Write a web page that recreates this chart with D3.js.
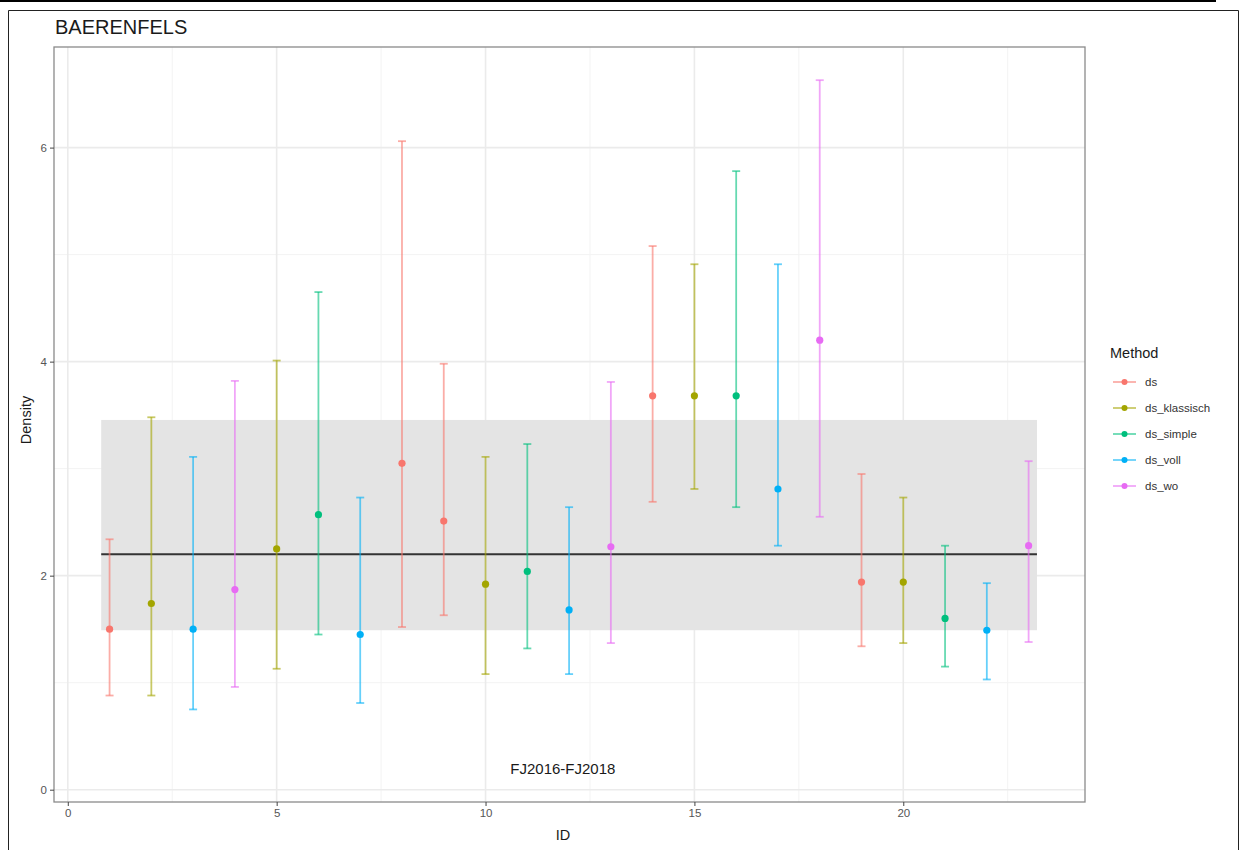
<!DOCTYPE html>
<html>
<head>
<meta charset="utf-8">
<script src="https://cdn.jsdelivr.net/npm/d3@7"></script>
<style>
  html, body { margin: 0; padding: 0; background: #ffffff; }
  svg { display: block; font-family: "Liberation Sans", Arial, Helvetica, sans-serif; }
</style>
</head>
<body>
<svg id="chart" width="1243" height="850"></svg>
<script>
// Plot IDs and the method used for each estimate
const ids = [1, 2, 3, 4, 5, 6, 7, 8, 9, 10, 11, 12, 13, 14, 15, 16, 17, 18, 19, 20, 21, 22, 23];
const methods = ["ds", "ds_klassisch", "ds_voll", "ds_wo", "ds_klassisch", "ds_simple", "ds_voll",
  "ds", "ds", "ds_klassisch", "ds_simple", "ds_voll", "ds_wo", "ds", "ds_klassisch", "ds_simple",
  "ds_voll", "ds_wo", "ds", "ds_klassisch", "ds_simple", "ds_voll", "ds_wo"];

// Density estimate with lower / upper confidence limits
const density = [1.50, 1.74, 1.50, 1.87, 2.25, 2.57, 1.45, 3.05, 2.51, 1.92, 2.04, 1.68, 2.27,
  3.68, 3.68, 3.68, 2.81, 4.20, 1.94, 1.94, 1.60, 1.49, 2.28];
const lower = [0.88, 0.88, 0.75, 0.96, 1.13, 1.45, 0.81, 1.52, 1.63, 1.08, 1.32, 1.08, 1.37,
  2.69, 2.81, 2.64, 2.28, 2.55, 1.34, 1.37, 1.15, 1.03, 1.38];
const upper = [2.34, 3.48, 3.11, 3.82, 4.01, 4.65, 2.73, 6.06, 3.98, 3.11, 3.23, 2.64, 3.81,
  5.08, 4.91, 5.78, 4.91, 6.63, 2.95, 2.73, 2.28, 1.93, 3.07];

// Reference level and its range across all IDs
const meanDensity = [2.20];
const bandRange = [1.49, 3.455];
const bandSpan = [0.8, 23.2];

// Legend order and colours
const methodLevels = ["ds", "ds_klassisch", "ds_simple", "ds_voll", "ds_wo"];
const methodColors = ["#F8766D", "#A3A500", "#00BF7D", "#00B0F6", "#E76BF3"];

// Axis ticks
const xTicks = [0, 5, 10, 15, 20];
const xMinor = [2.5, 7.5, 12.5, 17.5, 22.5];
const yTicks = [0, 2, 4, 6];
const yMinor = [1, 3, 5];

const chartTitle = "BAERENFELS";
const periodLabel = "FJ2016-FJ2018";

const rows = ids.map((id, i) => ({ id, method: methods[i], y: density[i], lo: lower[i], hi: upper[i] }));

const svg = d3.select("#chart");
const panel = { left: 54, right: 1085, top: 47, bottom: 802 };

const x = d3.scaleLinear().domain([-0.33, 24.35]).range([panel.left, panel.right]);
const y = d3.scaleLinear().domain([-0.115, 6.94]).range([panel.bottom, panel.top]);
const color = d3.scaleOrdinal().domain(methodLevels).range(methodColors);

// Page frame
svg.append("line").attr("x1", 0).attr("x2", 1216).attr("y1", 1).attr("y2", 1)
  .attr("stroke", "#000").attr("stroke-width", 2);
svg.append("path").attr("d", "M8.5,850 V10.5 H1238.5 V850")
  .attr("fill", "none").attr("stroke", "#222").attr("stroke-width", 1);

// Title
svg.append("text").attr("x", 55).attr("y", 34).attr("font-size", 20)
  .attr("fill", "#1a1a1a").text(chartTitle);

const g = svg.append("g");

// Panel background and grid
g.append("rect").attr("x", panel.left).attr("y", panel.top)
  .attr("width", panel.right - panel.left).attr("height", panel.bottom - panel.top)
  .attr("fill", "#fff");

g.selectAll("line.xminor").data(xMinor).join("line")
  .attr("x1", d => x(d)).attr("x2", d => x(d)).attr("y1", panel.top).attr("y2", panel.bottom)
  .attr("stroke", "#f3f3f3").attr("stroke-width", 1);
g.selectAll("line.yminor").data(yMinor).join("line")
  .attr("y1", d => y(d)).attr("y2", d => y(d)).attr("x1", panel.left).attr("x2", panel.right)
  .attr("stroke", "#f3f3f3").attr("stroke-width", 1);
g.selectAll("line.xmajor").data(xTicks).join("line")
  .attr("x1", d => x(d)).attr("x2", d => x(d)).attr("y1", panel.top).attr("y2", panel.bottom)
  .attr("stroke", "#ebebeb").attr("stroke-width", 1.6);
g.selectAll("line.ymajor").data(yTicks).join("line")
  .attr("y1", d => y(d)).attr("y2", d => y(d)).attr("x1", panel.left).attr("x2", panel.right)
  .attr("stroke", "#ebebeb").attr("stroke-width", 1.6);

// Reference band and mean line
g.append("rect")
  .attr("x", x(bandSpan[0])).attr("width", x(bandSpan[1]) - x(bandSpan[0]))
  .attr("y", y(bandRange[1])).attr("height", y(bandRange[0]) - y(bandRange[1]))
  .attr("fill", "#e4e4e4");
g.selectAll("line.mean").data(meanDensity).join("line")
  .attr("x1", x(bandSpan[0])).attr("x2", x(bandSpan[1]))
  .attr("y1", d => y(d)).attr("y2", d => y(d))
  .attr("stroke", "#333").attr("stroke-width", 2.2);

// Error bars
const capHalf = 4;
const bars = g.selectAll("g.bar").data(rows).join("g")
  .attr("stroke", d => color(d.method)).attr("stroke-opacity", 0.6).attr("stroke-width", 1.8);
bars.append("line").attr("x1", d => x(d.id)).attr("x2", d => x(d.id))
  .attr("y1", d => y(d.lo)).attr("y2", d => y(d.hi));
bars.append("line").attr("x1", d => x(d.id) - capHalf).attr("x2", d => x(d.id) + capHalf)
  .attr("y1", d => y(d.hi)).attr("y2", d => y(d.hi));
bars.append("line").attr("x1", d => x(d.id) - capHalf).attr("x2", d => x(d.id) + capHalf)
  .attr("y1", d => y(d.lo)).attr("y2", d => y(d.lo));

// Points
g.selectAll("circle.pt").data(rows).join("circle")
  .attr("cx", d => x(d.id)).attr("cy", d => y(d.y)).attr("r", 3.6)
  .attr("fill", d => color(d.method));

// Period annotation
g.append("text").attr("x", x(11.85)).attr("y", y(0.2)).attr("dy", "0.35em")
  .attr("text-anchor", "middle").attr("font-size", 15).attr("fill", "#1a1a1a")
  .text(periodLabel);

// Panel border
g.append("rect").attr("x", panel.left).attr("y", panel.top)
  .attr("width", panel.right - panel.left).attr("height", panel.bottom - panel.top)
  .attr("fill", "none").attr("stroke", "#8a8a8a").attr("stroke-width", 1.3);

// Axes
const xAxis = svg.append("g").attr("transform", `translate(0,${panel.bottom})`)
  .call(d3.axisBottom(x).tickValues(xTicks).tickFormat(d3.format("d")).tickSize(4).tickPadding(3));
const yAxis = svg.append("g").attr("transform", `translate(${panel.left},0)`)
  .call(d3.axisLeft(y).tickValues(yTicks).tickFormat(d3.format("d")).tickSize(4).tickPadding(3));
[xAxis, yAxis].forEach(a => {
  a.select(".domain").remove();
  a.selectAll(".tick line").attr("stroke", "#444").attr("stroke-width", 1);
  a.selectAll(".tick text").attr("fill", "#555").attr("font-size", 11.5)
    .attr("font-family", "Liberation Sans, Arial, sans-serif");
});

// Axis titles
svg.append("text").attr("x", 563).attr("y", 840).attr("text-anchor", "middle")
  .attr("font-size", 14.5).attr("fill", "#1a1a1a").text("ID");
svg.append("text").attr("transform", "translate(31,420) rotate(-90)")
  .attr("text-anchor", "middle").attr("font-size", 14.5).attr("fill", "#1a1a1a").text("Density");

// Legend
const legend = svg.append("g").attr("transform", "translate(1110,0)");
legend.append("text").attr("x", 0).attr("y", 358).attr("font-size", 14.5)
  .attr("fill", "#1a1a1a").text("Method");
const items = legend.selectAll("g.item").data(methodLevels).join("g")
  .attr("transform", (d, i) => `translate(0,${382 + i * 26})`);
items.append("line").attr("x1", 3).attr("x2", 26).attr("y1", 0).attr("y2", 0)
  .attr("stroke", d => color(d)).attr("stroke-opacity", 0.6).attr("stroke-width", 1.8);
items.append("circle").attr("cx", 14.5).attr("cy", 0).attr("r", 3)
  .attr("fill", d => color(d));
items.append("text").attr("x", 35).attr("y", 0).attr("dy", "0.35em")
  .attr("font-size", 11.5).attr("fill", "#333").text(d => d);
</script>
</body>
</html>
